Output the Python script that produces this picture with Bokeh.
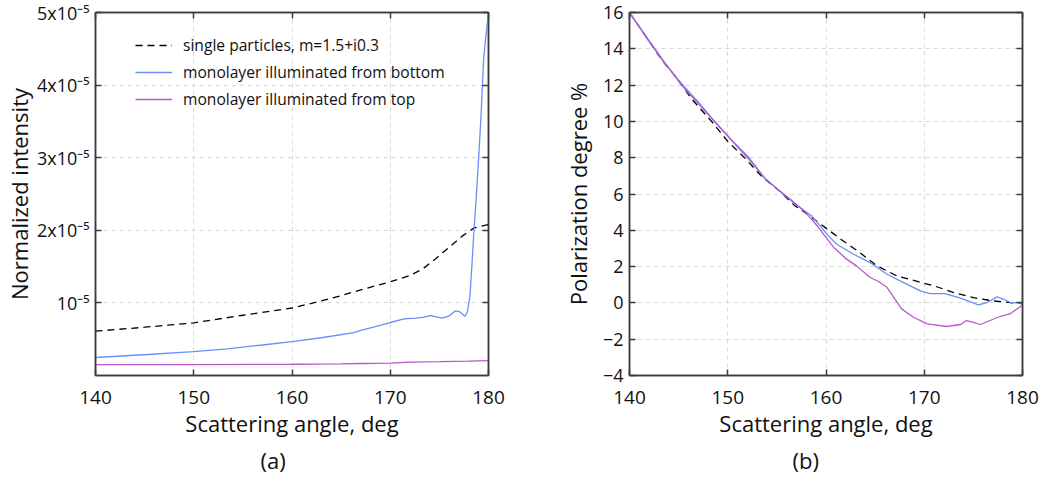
from bokeh.plotting import figure
from bokeh.models import FixedTicker, LinearAxis, Legend, LegendItem, Title, Range1d
from bokeh.layouts import row
from bokeh.embed import file_html
from bokeh.resources import INLINE

FONT = "Open Sans"

# ---------------- data: panel (a) normalized intensity ----------------
ang_a_single = [140, 145, 150, 155, 160, 162.5, 165, 167, 170, 172, 173.3, 174.6, 176, 177.4, 178.5, 180]
int_single = [0.61e-5, 0.665e-5, 0.725e-5, 0.83e-5, 0.93e-5, 1.01e-5, 1.10e-5, 1.18e-5, 1.29e-5,
              1.376e-5, 1.468e-5, 1.606e-5, 1.766e-5, 1.927e-5, 2.03e-5, 2.08e-5]

ang_a_bottom = [140, 145.3, 150, 153.4, 157, 160, 163, 166.3, 167, 168.3, 170, 171.4, 172.6, 173.3,
                174.1, 175.3, 176, 176.6, 177.1, 177.6, 177.85, 178.1, 178.3, 178.5, 178.75, 179,
                179.25, 179.5, 179.75, 180]
int_bottom = [0.248e-5, 0.289e-5, 0.33e-5, 0.367e-5, 0.42e-5, 0.468e-5, 0.52e-5, 0.59e-5, 0.62e-5,
              0.665e-5, 0.73e-5, 0.78e-5, 0.79e-5, 0.80e-5, 0.826e-5, 0.789e-5, 0.82e-5, 0.89e-5,
              0.875e-5, 0.817e-5, 0.88e-5, 1.08e-5, 1.49e-5, 1.95e-5, 2.45e-5, 3.0e-5, 3.6e-5,
              4.35e-5, 4.7e-5, 5.0e-5]

ang_a_top = [140, 150, 160, 165, 167, 170, 172, 175, 178, 180]
int_top = [0.151e-5, 0.151e-5, 0.155e-5, 0.16e-5, 0.165e-5, 0.17e-5, 0.185e-5, 0.19e-5, 0.198e-5, 0.205e-5]

# ---------------- data: panel (b) polarization degree ----------------
ang_b_single = [140, 141.8, 143.3, 145, 146.3, 148.4, 150, 151.8, 153.5, 155.2, 156.8, 158.5, 160,
                161.5, 163.2, 165.2, 167.2, 169.3, 171, 173, 175, 177, 179, 180]
pol_single = [16, 14.57, 13.37, 12.27, 11.26, 9.97, 8.9, 7.95, 6.94, 6.2, 5.37, 4.73, 4.12,
              3.51, 2.87, 2.04, 1.49, 1.18, 0.94, 0.57, 0.29, 0.11, 0.0, 0.0]

ang_b_bottom = [140, 141.9, 143.6, 145.3, 147, 148.7, 150.4, 152.1, 153.8, 155.2, 156.8, 158.5,
                160.2, 161.1, 162.8, 164.5, 166.2, 167.9, 169.6, 170.6, 172.1, 173.7, 175.5,
                176.4, 177.4, 178.1, 178.75, 180]
pol_bottom = [16, 14.47, 13.19, 12.08, 11.07, 9.97, 8.96, 8.04, 6.85, 6.2, 5.47, 4.82,
              3.72, 3.23, 2.68, 2.22, 1.58, 1.12, 0.66, 0.51, 0.51, 0.26, -0.11,
              0.02, 0.33, 0.2, 0.02, 0.0]

ang_b_top = [140, 141.6, 143.3, 145.3, 147, 148.7, 150.4, 152.4, 153.8, 155.2, 156.5, 157.9,
             159.2, 160.8, 162.1, 163.1, 164.5, 165.35, 166.2, 167.7, 168.9, 170.3, 172.3,
             173.7, 174.3, 175.0, 175.7, 176.7, 177.7, 178.7, 179.8, 180]
pol_top = [16, 14.75, 13.46, 11.99, 10.98, 9.97, 8.96, 7.76, 6.85, 6.2, 5.65, 5.0,
           4.18, 3.05, 2.41, 2.04, 1.40, 1.18, 0.86, -0.33, -0.79, -1.16, -1.30,
           -1.19, -0.97, -1.07, -1.19, -0.97, -0.75, -0.61, -0.2, 0.0]

# ---------------- ticks and labels ----------------
x_ticks = [140, 150, 160, 170, 180]
ya_ticks = [1e-5, 2e-5, 3e-5, 4e-5, 5e-5]
ya_tick_labels = ["10\u207b\u2075", "2x10\u207b\u2075", "3x10\u207b\u2075", "4x10\u207b\u2075", "5x10\u207b\u2075"]
yb_ticks = [-4, -2, 0, 2, 4, 6, 8, 10, 12, 14, 16]

legend_labels = ["single particles, m=1.5+i0.3",
                 "monolayer illuminated from bottom",
                 "monolayer illuminated from top"]
panel_tags = ["(a)", "(b)"]

C_DASH = "#000000"
C_BLUE = "#6b8ff6"
C_PURP = "#b75ac8"
AX = "#3c3c3c"


def style(p, xt, yt, yoverride=None, ytitle_standoff=0):
    p.xgrid.ticker = FixedTicker(ticks=xt)
    p.ygrid.ticker = FixedTicker(ticks=yt)
    for g in (p.xgrid, p.ygrid):
        g.grid_line_color = "#d6d6d6"
        g.grid_line_dash = "4 4"
        g.grid_line_width = 1
    p.outline_line_color = AX
    p.outline_line_width = 1.5
    p.background_fill_color = "white"
    p.border_fill_color = "white"
    for ax in (p.xaxis[0], p.yaxis[0]):
        ax.axis_line_color = AX
        ax.axis_line_width = 1.5
        ax.major_tick_line_color = AX
        ax.major_tick_line_width = 1.5
        ax.major_tick_in = 6
        ax.major_tick_out = 0
        ax.minor_tick_in = 0
        ax.minor_tick_out = 0
        ax.major_label_text_font = FONT
        ax.major_label_text_color = "#111111"
        ax.axis_label_text_font = FONT
        ax.axis_label_text_font_size = "22px"
        ax.axis_label_text_font_style = "normal"
        ax.axis_label_text_color = "#111111"
    p.xaxis[0].major_label_text_font_size = "19px"
    p.yaxis[0].major_label_text_font_size = "18px"
    p.xaxis[0].ticker = FixedTicker(ticks=xt)
    p.yaxis[0].ticker = FixedTicker(ticks=yt)
    p.xaxis[0].major_label_standoff = 15
    p.xaxis[0].axis_label_standoff = 1
    p.yaxis[0].major_label_standoff = 6
    p.yaxis[0].axis_label_standoff = ytitle_standoff
    if yoverride:
        p.yaxis[0].major_label_overrides = yoverride
    # mirrored axes (ticks only)
    for loc, t in (("right", yt), ("above", xt)):
        a = LinearAxis(ticker=FixedTicker(ticks=t))
        a.major_label_overrides = {v: "" for v in t}
        a.major_label_text_font_size = "0px"
        a.major_label_standoff = 0
        a.axis_line_color = AX
        a.axis_line_width = 1.5
        a.major_tick_line_color = AX
        a.major_tick_line_width = 1.5
        a.major_tick_in = 6
        a.major_tick_out = 0
        a.minor_tick_in = 0
        a.minor_tick_out = 0
        p.add_layout(a, loc)


def tag(p, text, off):
    p.add_layout(Title(text=text, align="left", offset=off, standoff=5,
                       text_font=FONT, text_font_size="22px", text_font_style="normal",
                       text_color="#111111"), "below")


# ---------------- panel (a) ----------------
pa = figure(width=520, height=478, output_backend="svg", toolbar_location=None,
            x_range=Range1d(140, 180), y_range=Range1d(0, 5e-5),
            min_border_left=95, min_border_right=32, min_border_top=12, min_border_bottom=103,
            x_axis_label="Scattering angle, deg", y_axis_label="Normalized intensity")
style(pa, x_ticks, ya_ticks, dict(zip(ya_ticks, ya_tick_labels)), 0)

r1 = pa.line(ang_a_single, int_single, line_color=C_DASH, line_width=1.3, line_dash="7 5")
r2 = pa.line(ang_a_bottom, int_bottom, line_color=C_BLUE, line_width=1.3)
r3 = pa.line(ang_a_top, int_top, line_color=C_PURP, line_width=1.3)

leg = Legend(items=[LegendItem(label=legend_labels[0], renderers=[r1]),
                    LegendItem(label=legend_labels[1], renderers=[r2]),
                    LegendItem(label=legend_labels[2], renderers=[r3])],
             location=(40, 265), padding=0, margin=0, spacing=5,
             glyph_width=37, glyph_height=20, label_height=20, label_standoff=11,
             border_line_alpha=0, background_fill_alpha=0,
             label_text_font=FONT, label_text_font_size="15.6px", label_text_color="#111111")
pa.add_layout(leg, "center")
tag(pa, panel_tags[0], 165)

# ---------------- panel (b) ----------------
pb = figure(width=522, height=478, output_backend="svg", toolbar_location=None,
            x_range=Range1d(140, 180), y_range=Range1d(-4, 16),
            min_border_left=109, min_border_right=20, min_border_top=12, min_border_bottom=103,
            x_axis_label="Scattering angle, deg", y_axis_label="Polarization degree %")
style(pb, x_ticks, yb_ticks, None, 7)

pb.line(ang_b_single, pol_single, line_color=C_DASH, line_width=1.3, line_dash="7 5")
pb.line(ang_b_bottom, pol_bottom, line_color=C_BLUE, line_width=1.3)
pb.line(ang_b_top, pol_top, line_color=C_PURP, line_width=1.3)
tag(pb, panel_tags[1], 163)

layout = row(pa, pb)
open("out.html", "w").write(file_html(layout, INLINE))
